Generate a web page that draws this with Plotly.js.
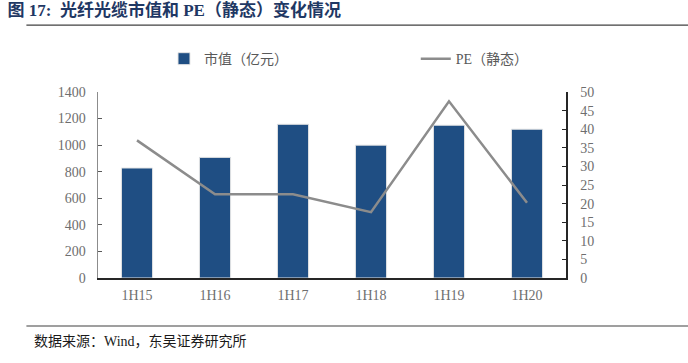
<!DOCTYPE html>
<html><head><meta charset="utf-8">
<script src="https://cdn.plot.ly/plotly-3.0.1.min.js"></script>
<style>html,body{margin:0;padding:0;background:#fff}#c{width:688px;height:363px}</style>
</head><body><div id="c"></div>
<script>
const categories = ['1H15','1H16','1H17','1H18','1H19','1H20'];
const marketCap = [828, 908, 1157, 1000, 1150, 1120];
const pe = [37.0, 22.5, 22.5, 17.7, 47.5, 20.2];
const leftTicks = [0,200,400,600,800,1000,1200,1400];
const rightTicks = [0,5,10,15,20,25,30,35,40,45,50];

const serif = 'Liberation Serif, "Noto Sans CJK SC", serif';
const cjk = 'Liberation Serif, "Noto Sans CJK SC", sans-serif';

const data = [
  {type:'bar', x:categories, y:marketCap, name:'市值（亿元）', marker:{color:'#1f4e83', line:{color:'#e6e6e6', width:1}}, yaxis:'y', legend:'legend'},
  {type:'scatter', mode:'lines', x:categories, y:pe, name:'PE（静态）', line:{color:'#8c8c8c', width:2.5}, yaxis:'y2', legend:'legend2'}
];

const layout = {
  width:688, height:363,
  margin:{l:98, r:122, t:92, b:85},
  paper_bgcolor:'#fff', plot_bgcolor:'#fff',
  bargap:0.6,
  showlegend:true,
  title:{text:'图 17:  光纤光缆市值和 PE（静态）变化情况', x:0.011, xanchor:'left', xref:'container', y:0.988, yanchor:'top', yref:'container',
    font:{family:cjk, size:17, color:'#1f3864', weight:'bold'}},
  xaxis:{showline:true, linecolor:'#262626', linewidth:1.5, ticks:'', tickfont:{family:serif, size:14, color:'#6e6e6e'}, showgrid:false, zeroline:false, ticklabelstandoff:4},
  yaxis:{range:[0,1400], tickvals:leftTicks, showline:true, linecolor:'#8c8c8c', linewidth:1.5, ticks:'inside', ticklen:4, tickcolor:'#595959', showgrid:false, zeroline:false,
    tickfont:{family:serif, size:14, color:'#6e6e6e'}, ticklabelstandoff:8},
  yaxis2:{range:[0,50], tickvals:rightTicks, overlaying:'y', side:'right', showline:true, linecolor:'#262626', linewidth:1.5, ticks:'inside', ticklen:4, tickcolor:'#262626', showgrid:false, zeroline:false,
    tickfont:{family:serif, size:14, color:'#6e6e6e'}, ticklabelstandoff:10},
  legend:{orientation:'h', x:0.141, xanchor:'left', y:1.177, yanchor:'middle', font:{family:cjk, size:14, color:'#595959'}, itemwidth:30, bgcolor:'rgba(0,0,0,0)'},
  legend2:{orientation:'h', x:0.679, xanchor:'left', y:1.177, yanchor:'middle', font:{family:cjk, size:14, color:'#595959'}, itemwidth:30, bgcolor:'rgba(0,0,0,0)'},
  shapes:[
    {type:'line', xref:'paper', yref:'paper', x0:-0.153, x1:1.3, y0:1.36, y1:1.36, line:{color:'#404040', width:1.2}},
    {type:'line', xref:'paper', yref:'paper', x0:-0.153, x1:1.3, y0:-0.258, y1:-0.258, line:{color:'#404040', width:1.2}}
  ],
  annotations:[
    {text:'数据来源：Wind，东吴证券研究所', xref:'paper', yref:'paper', x:-0.14, xanchor:'left', y:-0.34, yanchor:'middle', showarrow:false,
     font:{family:cjk, size:14, color:'#1a1a1a'}}
  ]
};
Plotly.newPlot('c', data, layout, {displayModeBar:false, staticPlot:true});
</script></body></html>
